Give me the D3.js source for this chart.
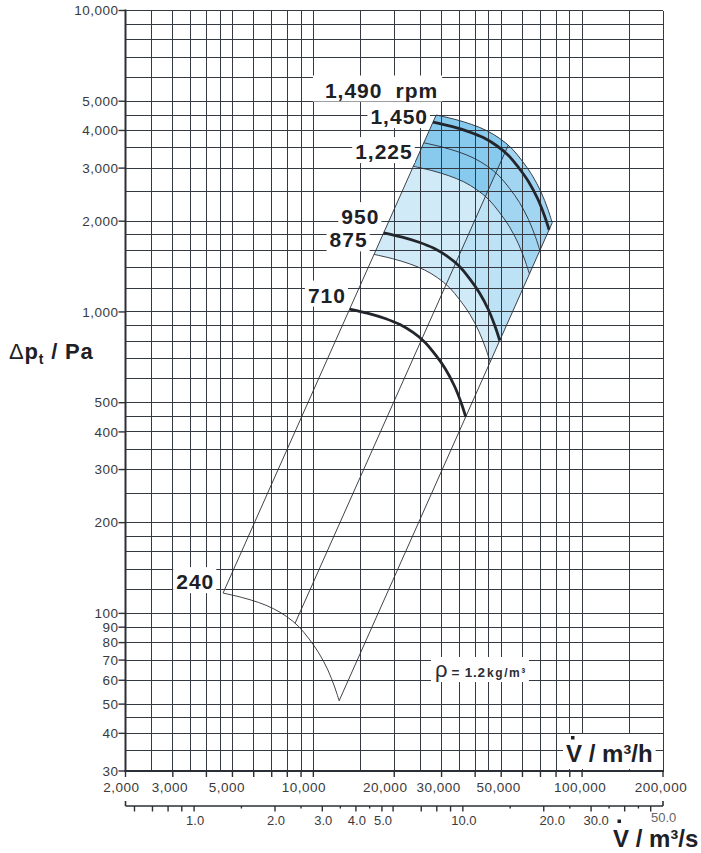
<!DOCTYPE html>
<html><head><meta charset="utf-8">
<script src="https://cdn.jsdelivr.net/npm/d3@7"></script>
<style>
html,body{margin:0;padding:0;background:#fff;}
svg{display:block;}
text{font-family:"Liberation Sans",Arial,Helvetica,sans-serif;}
</style></head><body>
<svg id="c" width="701" height="853"></svg>
<script>
// ---------------- data ----------------
const xGrid = [2000,2500,3000,3500,4000,4500,5000,6000,7000,8000,9000,10000,15000,20000,25000,30000,35000,40000,45000,50000,60000,70000,80000,90000,100000,150000,200000];
const xTicks = [2000,3000,4000,5000,6000,7000,8000,9000,10000,20000,30000,40000,50000,60000,70000,80000,90000,100000,200000];
const xLabels = [2000,3000,5000,10000,20000,30000,50000,100000,200000];
const yGrid = [30,35,40,45,50,60,70,80,90,100,120,140,160,180,200,250,300,350,400,450,500,600,700,800,900,1000,1200,1400,1600,1800,2000,2500,3000,3500,4000,4500,5000,6000,7000,8000,9000,10000];
const yLabels = [30,40,50,60,70,80,90,100,200,300,400,500,1000,2000,3000,4000,5000,10000];
const sMajor = [1,2,3,4,5,5.5,10,20,30,40,50];
const sMedium = [0.6,0.7,0.8,0.9,7,8,9];
const sMinor = [1.5,2.5,3.5,4.5,15,25,35,45];
const sLabels = [1,2,3,4,5,10,20,30,50];

const c240V  = [4614,5408,6254,7099,7944,8789,9634,10479,11324,12000,12473];
const c240P  = [116.8,113.0,108.7,103.7,97.7,90.7,82.3,73.9,64.9,57.0,51.3];
const c710V  = [13650,16000,18500,21000,23500,26000,28500,31000,33500,35500,36900];
const c710P  = [1022,989,951,908,855,794,720,647,568,499,449];
const c875V  = [16822,19718,22799,25880,28961,32042,35123,38204,41285,43750,45475];
const c875P  = [1552,1502,1444,1379,1299,1206,1094,983,863,758,682];
const c950V  = [18264,21408,24754,28099,31444,34789,38134,41479,44824,47500,49373];
const c950P  = [1830,1771,1703,1626,1531,1422,1289,1158,1017,893,804];
const c1225V = [23551,27606,31919,36232,40546,44859,49173,53486,57799,61250,63665];
const c1225P = [3042,2944,2831,2703,2545,2364,2143,1926,1691,1485,1337];
const c1340V = [25762,30197,34916,39634,44352,49070,53789,58507,63225,67000,69642];
const c1340P = [3640,3523,3388,3234,3046,2828,2565,2305,2023,1778,1599];
const c1450V = [27877,32676,37782,42887,47993,53099,58204,63310,68416,72500,75359];
const c1450P = [4263,4125,3966,3787,3566,3312,3003,2699,2369,2081,1873];
const c1490V = [28646,33577,38824,44070,49317,54563,59810,65056,70303,74500,77438];
const c1490P = [4501,4356,4188,3999,3766,3497,3171,2849,2502,2198,1977];

const sysLeftV = [4614,28646],  sysLeftP = [116.8,4501];
const sysMidV  = [8550,53100],  sysMidP  = [92.7,3572];
const sysRightV= [12473,77438], sysRightP= [51.3,1977];

const rpmNames = ["1,490","1,450","1,225","950","875","710","240"];

// ---------------- drawing ----------------
const svg = d3.select("#c");
const X0=125.5, X1=663, Y0=771, Y1=10.5;
const x = d3.scaleLog().domain([2000,200000]).range([X0,X1]);
const y = d3.scaleLog().domain([30,10000]).range([Y0,Y1]);
const zip=(V,P)=>V.map((v,i)=>[v,P[i]]);
const C = {
  240:zip(c240V,c240P), 710:zip(c710V,c710P), 875:zip(c875V,c875P), 950:zip(c950V,c950P),
  1225:zip(c1225V,c1225P), 1340:zip(c1340V,c1340P), 1450:zip(c1450V,c1450P), 1490:zip(c1490V,c1490P)
};
const line = d3.line().x(d=>x(d[0])).y(d=>y(d[1])).curve(d3.curveCatmullRom.alpha(0.5));
function band(lo,hi){ const a=line(lo), b=line(hi.slice().reverse()); return a+"L"+b.slice(1)+"Z"; }

svg.append("rect").attr("width",701).attr("height",853).attr("fill","#fff");

// clip left / right of middle system line
const m0=[x(sysMidV[0]),y(sysMidP[0])], m1=[x(sysMidV[1]),y(sysMidP[1])];
const ddx=m1[0]-m0[0], ddy=m1[1]-m0[1], LL=Math.hypot(ddx,ddy), ux=ddx/LL, uy=ddy/LL;
const A=[m0[0]-ux*1000,m0[1]-uy*1000], B=[m1[0]+ux*1000,m1[1]+uy*1000];
svg.append("clipPath").attr("id","leftMid").append("polygon")
  .attr("points",[A,B,[B[0]-3000,B[1]],[A[0]-3000,A[1]]].map(p=>p.join(",")).join(" "));
svg.append("clipPath").attr("id","rightMid").append("polygon")
  .attr("points",[A,B,[B[0]+3000,B[1]],[A[0]+3000,A[1]]].map(p=>p.join(",")).join(" "));

// blue fills
svg.append("path").attr("d",band(C[875],C[1490])).attr("fill","#d0eaf8");
svg.append("path").attr("d",band(C[950],C[1225])).attr("fill","#bde2f6").attr("clip-path","url(#rightMid)");
svg.append("path").attr("d",band(C[1225],C[1490])).attr("fill","#a2d5f2");
svg.append("path").attr("d",band(C[1225],C[1490])).attr("fill","#88c9ee").attr("clip-path","url(#leftMid)");

// grid
const grid = svg.append("g").attr("stroke","#353a42").attr("stroke-width",1).attr("shape-rendering","crispEdges");
xGrid.forEach(v=>grid.append("line").attr("x1",x(v)).attr("x2",x(v)).attr("y1",Y1).attr("y2",Y0));
yGrid.forEach(v=>grid.append("line").attr("x1",X0).attr("x2",X1).attr("y1",y(v)).attr("y2",y(v)));

// system lines
const sys = svg.append("g").attr("stroke","#2a2e35").attr("stroke-width",0.9).attr("fill","none");
[[sysLeftV,sysLeftP],[sysMidV,sysMidP],[sysRightV,sysRightP]].forEach(([V,P])=>{
  sys.append("line").attr("x1",x(V[0])).attr("y1",y(P[0])).attr("x2",x(V[1])).attr("y2",y(P[1]));
});
// curves
[240,875,1225,1340,1490].forEach(k=>svg.append("path").attr("d",line(C[k])).attr("fill","none").attr("stroke","#2a2e35").attr("stroke-width",0.9));
[710,950,1450].forEach(k=>svg.append("path").attr("d",line(C[k])).attr("fill","none").attr("stroke","#22262c").attr("stroke-width",2.8));

// axes
const ax = svg.append("g").attr("stroke","#2b2f36");
ax.append("line").attr("x1",X0).attr("x2",X0).attr("y1",Y1-1).attr("y2",Y0+1).attr("stroke-width",2);
ax.append("line").attr("x1",X0-1).attr("x2",X1+1).attr("y1",Y0).attr("y2",Y0).attr("stroke-width",2);
yLabels.forEach(v=>ax.append("line").attr("x1",X0-7).attr("x2",X0).attr("y1",y(v)).attr("y2",y(v)).attr("stroke-width",1.4));
xTicks.forEach(v=>ax.append("line").attr("x1",x(v)).attr("x2",x(v)).attr("y1",Y0).attr("y2",Y0+6).attr("stroke-width",1.4));
// second axis (m3/s)
const YS=806;
ax.append("line").attr("x1",X0).attr("x2",X1).attr("y1",YS).attr("y2",YS).attr("stroke-width",1.6);
[X0,X1].forEach(px=>ax.append("line").attr("x1",px).attr("x2",px).attr("y1",YS-5).attr("y2",YS).attr("stroke-width",1.6));
sMajor.concat(sMedium).forEach(v=>ax.append("line").attr("x1",x(v*3600)).attr("x2",x(v*3600)).attr("y1",YS).attr("y2",YS+5.5).attr("stroke-width",1.4));
sMinor.forEach(v=>ax.append("line").attr("x1",x(v*3600)).attr("x2",x(v*3600)).attr("y1",YS).attr("y2",YS+2.5).attr("stroke-width",1.4));

// tick labels
const fmt = d3.format(",");
const tl = svg.append("g").attr("fill","#3a3a3a").style("font-size","13.5px").style("letter-spacing","0.5px");
yLabels.forEach(v=>tl.append("text").attr("x",118.5).attr("y",y(v)+4.8).attr("text-anchor","end").text(fmt(v)));
const xOff = {2000:-4,3000:-3,5000:-5.5,10000:-9.5,20000:-9,30000:-3,50000:-2.5,100000:-2,200000:-2};
xLabels.forEach(v=>tl.append("text").attr("x",x(v)+(xOff[v]||0)).attr("y",791.5).attr("text-anchor","middle").text(fmt(v)));
const sOff = {20:7.5,30:4,50:12};
const sl = svg.append("g").attr("fill","#3a3a3a").style("font-size","13px");
sLabels.forEach(v=>sl.append("text").attr("x",x(v*3600)+(sOff[v]||0)+1).attr("y",v===50?821.5:825)
  .attr("text-anchor","middle").attr("fill",v===50?"#666":null).text(d3.format(".1f")(v)));

// boxed labels
function boxed(g, pad){
  const bb=g.node().getBBox();
  g.insert("rect",":first-child").attr("x",bb.x-pad.l).attr("y",bb.y-pad.t)
   .attr("width",bb.width+pad.l+pad.r).attr("height",bb.height+pad.t+pad.b).attr("fill","#fff");
}
const rpmKeys = [1490,1450,1225,950,875,710,240];
const lblOff = {1490:[2,-25],1450:[-5,-5.5],1225:[-0.6,-14.7],950:[-4.3,-16.2],875:[-6.4,-14.5],710:[-3.7,-14],240:[-8.8,-11.4]};
rpmKeys.forEach((k,i)=>{
  const p0=C[k][0], o=lblOff[k];
  const g=svg.append("g");
  const t=g.append("text").attr("x",x(p0[0])+o[0]).attr("y",y(p0[1])+o[1]+7.5).attr("text-anchor","end")
    .attr("fill","#1d2126").style("font-size","21px").style("font-weight","bold").style("letter-spacing","1px");
  t.append("tspan").text(rpmNames[i]);
  if(k===1490) t.append("tspan").attr("dx",13).text("rpm");
  boxed(g, k===1490?{l:12,r:4,t:3,b:0}:{l:3,r:2,t:3,b:0});
});

// density label
const rg=svg.append("g");
const rt=rg.append("text").attr("x",435).attr("y",677).attr("fill","#2a2d33");
rt.append("tspan").style("font-size","22px").text("ρ");
rt.append("tspan").attr("dx",4).style("font-size","13.5px").style("font-weight","bold").style("letter-spacing","0.8px").text("= 1.2");
rt.append("tspan").attr("dx",1).style("font-size","12px").style("font-weight","bold").style("letter-spacing","1.6px").text("kg/m³");
boxed(rg,{l:4,r:2,t:0,b:0});

// axis titles
const vh=svg.append("g");
vh.append("text").attr("x",566).attr("y",762).attr("fill","#1d2126").style("font-size","24px").style("font-weight","bold").text("V / m³/h");
boxed(vh,{l:3,r:3,t:6,b:2});
vh.append("rect").attr("x",571).attr("y",736).attr("width",3.5).attr("height",3.5).attr("fill","#1d2126");

const vs=svg.append("g");
vs.append("text").attr("x",613).attr("y",847).attr("fill","#1d2126").style("font-size","24px").style("font-weight","bold").text("V / m³/s");
vs.append("rect").attr("x",617.5).attr("y",819.5).attr("width",3.5).attr("height",3.5).attr("fill","#1d2126");

const yt=svg.append("text").attr("x",9).attr("y",359).attr("fill","#1d2126").style("font-size","22px").style("letter-spacing","0.8px");
yt.append("tspan").text("Δ");
yt.append("tspan").style("font-weight","bold").text("p");
yt.append("tspan").style("font-weight","bold").style("font-size","14px").attr("dy",5).text("t");
yt.append("tspan").style("font-weight","bold").attr("dy",-5).text(" / Pa");
</script>
</body></html>
